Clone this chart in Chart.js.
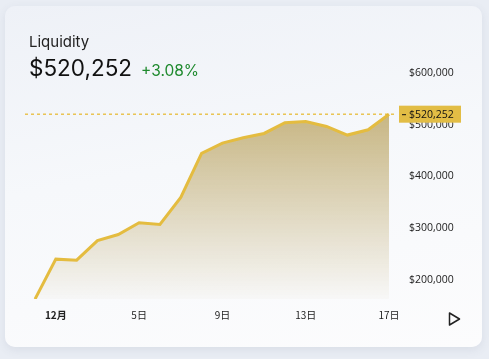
<!DOCTYPE html>
<html>
<head>
<meta charset="utf-8">
<script src="https://cdn.jsdelivr.net/npm/chart.js@4"></script>
<style>
  body { margin: 0; width: 489px; height: 359px; background: #e9edf4; overflow: hidden; font-family: Inter, "Noto Sans CJK SC", sans-serif; }
  #card { position: absolute; left: 5px; top: 6px; width: 477px; height: 341px; border-radius: 10px;
          background: linear-gradient(170deg, #eef1f7 0%, #f6f8fb 45%, #fcfcfd 100%);
          box-shadow: 0 3px 10px rgba(80, 90, 120, 0.10); }
  #title { position: absolute; left: 24px; top: 26px; font-size: 15px; color: #222; }
  #value { position: absolute; left: 24px; top: 48px; font-size: 22.5px; color: #111; }
  #change { font-size: 15.5px; color: #1f8a2e; margin-left: 9px; }
  #chartBox { position: absolute; left: 0; top: 0; width: 477px; height: 341px; }
  #play { position: absolute; left: 442px; top: 305px; }
</style>
</head>
<body>
<div id="card">
  <div id="chartBox"><canvas id="myChart" width="477" height="341"></canvas></div>
  <div id="title">Liquidity</div>
  <div id="value">$520,252<span id="change">+3.08%</span></div>
  <svg id="play" width="16" height="16" viewBox="0 0 16 16">
    <path d="M2.5 2 L12.5 8 L2.5 14 Z" fill="none" stroke="#222" stroke-width="1.5" stroke-linejoin="round"/>
  </svg>
</div>
<script>
// Nov 30 .. Dec 17
const days = ['11/30', '12/1', '12/2', '12/3', '12/4', '12/5', '12/6', '12/7', '12/8',
              '12/9', '12/10', '12/11', '12/12', '12/13', '12/14', '12/15', '12/16', '12/17'];
const tickLabels = ['', '12月', '', '', '', '5日', '', '', '', '9日', '', '', '', '13日', '', '', '', '17日'];
const liquidity = [162700, 240000, 238100, 276000, 287600, 310300, 307000, 359200, 444300,
                   464400, 474700, 483000, 503700, 506200, 496500, 479900, 490100, 520252];
const yTicks = [200000, 300000, 400000, 500000, 600000];

function money(v) {
  return '$' + v.toLocaleString('en-US');
}

const lastPrice = {
  id: 'lastPrice',
  afterDatasetsDraw(chart) {
    const ctx = chart.ctx;
    const area = chart.chartArea;
    const last = liquidity[liquidity.length - 1];
    const y = chart.scales.y.getPixelForValue(last);
    ctx.save();
    ctx.strokeStyle = '#e6b82a';
    ctx.lineWidth = 1.2;
    ctx.setLineDash([3, 3]);
    ctx.beginPath();
    ctx.moveTo(area.left - 10, y);
    ctx.lineTo(area.right + 8, y);
    ctx.stroke();
    ctx.setLineDash([]);
    // tag
    ctx.fillStyle = '#e2bd45';
    ctx.fillRect(area.right + 10, y - 8.5, 62, 17);
    ctx.strokeStyle = '#111';
    ctx.lineWidth = 1;
    ctx.beginPath();
    ctx.moveTo(area.right + 13, y + 0.5);
    ctx.lineTo(area.right + 17, y + 0.5);
    ctx.stroke();
    ctx.fillStyle = '#111';
    ctx.font = '10.5px "Open Sans"';
    ctx.textBaseline = 'middle';
    ctx.fillText(money(last), area.right + 20, y + 0.5);
    ctx.restore();
  }
};

const ctx = document.getElementById('myChart').getContext('2d');
const myChart = new Chart(ctx, {
  type: 'line',
  data: {
    labels: days,
    datasets: [{
      data: liquidity,
      borderColor: '#e4bc40',
      borderWidth: 3,
      pointRadius: 0,
      tension: 0,
      fill: 'start',
      backgroundColor: function(context) {
        const area = context.chart.chartArea;
        if (!area) return 'rgba(200,182,132,0.5)';
        const g = context.chart.ctx.createLinearGradient(0, area.top + 50, 0, area.bottom);
        g.addColorStop(0, 'rgba(196,177,122,0.95)');
        g.addColorStop(1, 'rgba(196,177,122,0.04)');
        return g;
      }
    }]
  },
  options: {
    responsive: false,
    animation: false,
    layout: { padding: { left: 30, top: 54, right: 0, bottom: 0 } },
    plugins: { legend: { display: false }, tooltip: { enabled: false } },
    scales: {
      x: {
        grid: { display: false },
        border: { display: false },
        ticks: {
          autoSkip: false,
          maxRotation: 0,
          padding: 2,
          color: '#222',
          font: function(c) {
            return { family: '"Noto Sans CJK SC"', size: 10, weight: c.index === 1 ? 'bold' : 'normal' };
          },
          callback: function(v, i) { return tickLabels[i]; }
        },
        afterFit: function(s) { s.height = 48; }
      },
      y: {
        position: 'right',
        min: 163000,
        max: 625000,
        grid: { display: false },
        border: { display: false },
        afterBuildTicks: function(s) { s.ticks = yTicks.map(v => ({ value: v })); },
        ticks: {
          padding: 12,
          color: '#222',
          font: { family: '"Open Sans"', size: 10.5 },
          callback: function(v) { return money(v); }
        },
        afterFit: function(s) { s.width = 93; }
      }
    }
  },
  plugins: [lastPrice]
});
</script>
</body>
</html>
